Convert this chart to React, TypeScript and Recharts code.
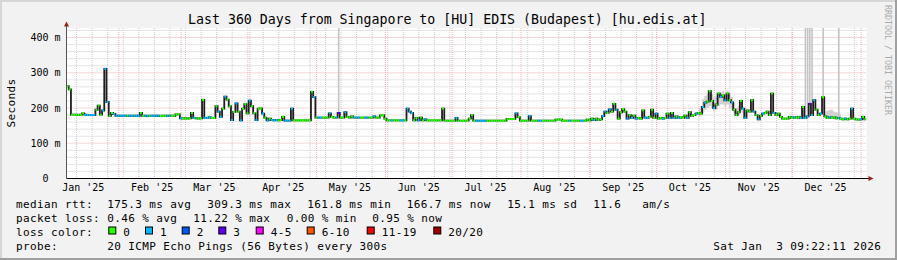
import React from 'react';
import { ComposedChart, Bar, Line, Area, XAxis, YAxis, CartesianGrid, ReferenceLine, Cell } from 'recharts';

// ---- data (one value per day, day 0 = 8 Jan 2025) ----
const medianMs = [
  262, 253, 181, 181, 181, 180, 181, 185, 181, 180,
  180, 180, 180, 195, 207, 181, 193, 311, 217, 178,
  186, 183, 178, 178, 178, 178, 178, 178, 178, 178,
  178, 178, 178, 186, 178, 178, 177, 178, 178, 178,
  178, 178, 177, 178, 178, 178, 178, 178, 178, 182,
  182, 171, 170, 171, 170, 171, 186, 172, 171, 170,
  171, 223, 172, 172, 174, 172, 172, 205, 190, 175,
  198, 232, 224, 205, 166, 189, 213, 190, 165, 198,
  211, 185, 221, 205, 185, 166, 198, 199, 184, 173,
  165, 170, 166, 165, 166, 165, 166, 175, 164, 164,
  164, 198, 165, 165, 165, 165, 165, 165, 165, 165,
  246, 231, 173, 173, 173, 173, 173, 173, 185, 175,
  173, 173, 186, 173, 173, 188, 175, 173, 176, 173,
  173, 173, 173, 173, 173, 173, 173, 173, 176, 173,
  173, 179, 179, 170, 165, 165, 165, 165, 165, 165,
  165, 165, 165, 198, 190, 186, 165, 172, 165, 173,
  165, 168, 165, 165, 165, 165, 165, 165, 165, 198,
  164, 164, 164, 164, 164, 172, 164, 164, 164, 164,
  164, 170, 180, 164, 164, 164, 164, 164, 164, 164,
  164, 164, 164, 164, 164, 164, 164, 164, 169, 169,
  169, 169, 185, 174, 164, 164, 164, 164, 177, 164,
  164, 164, 164, 164, 164, 164, 164, 164, 164, 164,
  167, 167, 167, 164, 164, 164, 164, 164, 164, 164,
  164, 164, 164, 164, 167, 165, 170, 166, 170, 166,
  168, 177, 190, 186, 196, 190, 212, 195, 170, 188,
  197, 190, 170, 180, 172, 178, 170, 172, 170, 193,
  173, 172, 175, 195, 172, 184, 170, 172, 170, 172,
  184, 172, 186, 172, 176, 172, 174, 172, 178, 172,
  188, 178, 180, 184, 186, 184, 203, 215, 218, 248,
  220, 200, 210, 241, 232, 236, 222, 241, 222, 216,
  195, 180, 188, 220, 198, 172, 193, 190, 222, 190,
  180, 168, 178, 184, 186, 190, 180, 241, 186, 180,
  184, 175, 170, 170, 170, 175, 172, 174, 172, 175,
  172, 203, 172, 176, 212, 180, 222, 195, 180, 184,
  231, 176, 172, 174, 172, 174, 171, 172, 170, 168,
  170, 168, 170, 198, 170, 168, 167, 168, 175, 168,
];

// [first day, last day, lost pings]
const lossRuns = [
  [8, 12, 1], [16, 18, 1], [21, 26, 1], [28, 32, 1], [35, 36, 1], [38, 41, 1], [45, 46, 1], [51, 51, 1],
  [57, 57, 1], [62, 64, 1], [68, 69, 1], [71, 71, 1], [74, 74, 1], [76, 76, 1], [78, 78, 1], [82, 82, 1],
  [85, 85, 1], [88, 88, 1], [90, 90, 1], [92, 94, 1], [98, 101, 1], [111, 111, 1],
  [113, 114, 1], [118, 118, 1], [121, 121, 1], [122, 122, 3], [125, 125, 1], [129, 131, 1], [134, 135, 1], [138, 138, 1],
  [146, 146, 1], [150, 151, 1], [153, 155, 1], [158, 158, 1], [161, 161, 1],
  [175, 175, 1], [184, 188, 1], [202, 202, 1], [208, 208, 1], [212, 213, 1], [226, 226, 1], [231, 232, 1], [237, 237, 1],
  [241, 242, 1], [244, 244, 1], [247, 247, 1], [252, 252, 1], [254, 254, 1], [256, 256, 1], [260, 261, 1], [265, 265, 1],
  [268, 268, 1], [271, 271, 1], [273, 273, 1], [275, 275, 1], [279, 279, 1], [283, 283, 1], [286, 287, 1], [291, 291, 1],
  [294, 294, 1], [296, 296, 1], [299, 299, 1], [304, 305, 1], [309, 309, 1], [311, 311, 1], [313, 313, 1], [318, 318, 1],
  [327, 327, 1], [330, 330, 1], [332, 333, 1], [334, 334, 3], [335, 336, 1], [339, 339, 1], [343, 343, 1], [347, 347, 1],
  [350, 350, 1], [353, 353, 1], [357, 357, 1],
];

// [day, low ms, high ms] of the ping spread (smoke)
const smokeSpread = [
  [284, 176, 200], [285, 178, 205], [286, 185, 225], [287, 195, 235], [288, 200, 240], [289, 205, 252],
  [290, 200, 240], [291, 190, 230], [292, 195, 235], [293, 205, 245], [294, 210, 245], [295, 210, 248],
  [296, 205, 240], [297, 210, 250], [298, 200, 240], [299, 195, 232], [300, 185, 215], [301, 178, 200],
  [302, 180, 205], [303, 190, 225], [304, 185, 210],
  [341, 172, 190], [342, 172, 192], [343, 175, 195], [344, 175, 195], [345, 172, 190], [346, 170, 188],
  [347, 170, 186], [348, 168, 182],
];

// days whose ping spread runs off the top of the graph
const offScaleDays = [122, 332, 333, 334, 335, 340, 347];

const monthStartDays = [23.55, 51.55, 82.55, 112.55, 143.55, 173.55, 204.55, 235.55, 265.55, 296.55, 326.55, 357.55];
const monthLabelDays = [7.55, 38.55, 66.55, 97.55, 127.55, 158.55, 188.55, 219.55, 250.55, 280.55, 311.55, 341.55];
const monthLabels = ["Jan '25", "Feb '25", "Mar '25", "Apr '25", "May '25", "Jun '25", "Jul '25", "Aug '25", "Sep '25", "Oct '25", "Nov '25", "Dec '25"];
const firstMondayDay = 4.55;
const yTicks = [0, 100, 200, 300, 400];
const yMax = 427;

const lossColorByCount = { 0: '#26ff00', 1: '#00b8ff', 2: '#0059ff', 3: '#5e00ff' };
const legendLossLabels = ['0', '1', '2', '3', '4-5', '6-10', '11-19', '20/20'];
const legendLossColors = ['#26ff00', '#00b8ff', '#0059ff', '#5e00ff', '#ff00ff', '#ff5500', '#ff0000', '#a00000'];

const titleText = 'Last 360 Days from Singapore to [HU] EDIS (Budapest) [hu.edis.at]';
const rttStats = ['175.3 ms avg', '309.3 ms max', '161.8 ms min', '166.7 ms now', '15.1 ms sd', '11.6', 'am/s'];
const lossStats = ['0.46 % avg', '11.22 % max', '0.00 % min', '0.95 % now'];
const probeText = '20 ICMP Echo Pings (56 Bytes) every 300s';
const dateText = 'Sat Jan  3 09:22:11 2026';

// ---- layout ----
const rttX = [107.3, 207.3, 307.3, 406.7, 507.3, 593.3, 642.3];
const lossX = [107.3, 193.3, 286.7, 372.3];
const boxX = [108.3, 145, 181.7, 218.3, 255.7, 306.7, 366.7, 433.3];
const MONO = "'DejaVu Sans Mono', monospace";

const lossByDay = medianMs.map((_, i) => {
  const r = lossRuns.find(([s, e]) => i >= s && i <= e);
  return r ? r[2] : 0;
});
const smokeByDay = {};
smokeSpread.forEach(([d, lo, hi]) => { smokeByDay[d] = [lo, hi]; });

const weekDays = [];
for (let d = firstMondayDay; d < 360; d += 7) weekDays.push(d);
const minorY = [];
for (let v = 20; v < yMax; v += 20) if (v % 100 !== 0) minorY.push(v);

const XTick = (props) => {
  const { x, y, payload } = props;
  const idx = monthLabelDays.indexOf(payload.value);
  return (
    <text x={x} y={y + 12.2} textAnchor="middle" fontFamily={MONO} fontSize={10} fill="#000">
      {idx >= 0 ? monthLabels[idx] : ''}
    </text>
  );
};

const YTick = (props) => {
  const { x, y, payload } = props;
  const v = payload.value;
  return (
    <text x={v === 0 ? x - 12.04 : x} y={y} dy="0.355em" textAnchor="end" fontFamily={MONO} fontSize={10} fill="#000">
      {v === 0 ? '0' : `${v} m`}
    </text>
  );
};

export default function App() {
  const data = medianMs.map((m, i) => ({
    i,
    m,
    band: [m - 3, m + 3],
    smoke: smokeByDay[i] ?? null,
    loss: lossByDay[i],
  }));
  const legendFont = { fontFamily: MONO, fontSize: 11, letterSpacing: 0.38 };
  return (
    <div style={{ position: 'absolute', left: 0, top: 0, width: 897, height: 260, background: '#f2f2f2', overflow: 'hidden' }}>
      <ComposedChart
        width={897}
        height={260}
        data={data}
        margin={{ top: 28, right: 30.5, bottom: 61.5, left: 0.5 }}
        barCategoryGap={0}
        barGap={0}
      >
        <CartesianGrid xAxisId="t" stroke="#cccccc" strokeDasharray="1 1" horizontalValues={minorY} verticalValues={weekDays} fill="#ffffff" fillOpacity={1} />
        <CartesianGrid xAxisId="t" stroke="#f0b2b2" strokeDasharray="1 1" horizontalValues={[100, 200, 300, 400]} verticalValues={monthStartDays} />
        <XAxis
          xAxisId="t"
          dataKey="i"
          type="number"
          domain={[0, 360]}
          ticks={monthLabelDays}
          interval={0}
          tickSize={0}
          tickMargin={0}
          height={20}
          axisLine={{ stroke: '#000' }}
          tickLine={false}
          tick={XTick}
          allowDataOverflow
        />
        <XAxis xAxisId="cat" dataKey="i" type="category" scale="band" height={0} hide />
        <YAxis
          domain={[0, yMax]}
          ticks={yTicks}
          interval={0}
          width={66}
          tickSize={0}
          tickMargin={6}
          tickLine={false}
          axisLine={{ stroke: '#555' }}
          tick={YTick}
          allowDataOverflow
        />
        {offScaleDays.map((d) => (
          <ReferenceLine
            key={`o${d}`}
            xAxisId="cat"
            segment={[{ x: d, y: medianMs[d] + 3 }, { x: d, y: yMax }]}
            stroke="#c4c4c4"
            strokeWidth={1.6}
            zIndex={120}
          />
        ))}
        <Area
          xAxisId="cat"
          type="step"
          dataKey="smoke"
          fill="#d2d2d2"
          fillOpacity={1}
          stroke="none"
          connectNulls={false}
          dot={false}
          activeDot={false}
          isAnimationActive={false}
        />
        <Line
          xAxisId="cat"
          type="step"
          dataKey="m"
          stroke="#1e1e1e"
          strokeWidth={1.8}
          dot={false}
          activeDot={false}
          isAnimationActive={false}
        />
        <Bar xAxisId="cat" dataKey="band" barSize={2.4} isAnimationActive={false} zIndex={450}>
          {data.map((d) => (
            <Cell key={`c${d.i}`} fill={lossColorByCount[d.loss]} />
          ))}
        </Bar>
      </ComposedChart>
      <svg width={897} height={260} style={{ position: 'absolute', left: 0, top: 0, pointerEvents: 'none' }}>
        <rect x={0} y={0} width={897} height={2} fill="#d6d6d6" />
        <rect x={0} y={0} width={2} height={260} fill="#d6d6d6" />
        <rect x={0} y={258} width={897} height={2} fill="#a0a0a0" />
        <rect x={895} y={0} width={2} height={260} fill="#a0a0a0" />
        <line x1={66.5} y1={26} x2={66.5} y2={28.5} stroke="#555" strokeWidth={1} />
        <polygon points="66.5,21.5 64,26.5 69,26.5" fill="#9a2020" />
        <line x1={866} y1={178.5} x2={869} y2={178.5} stroke="#000" strokeWidth={1} />
        <polygon points="873.5,178.5 868.5,176 868.5,181" fill="#9a2020" />
        <text x={447.3} y={24} textAnchor="middle" fontFamily={MONO} fontSize={13.25} fill="#000">{titleText}</text>
        <text x={14.5} y={103} transform="rotate(-90 14.5 103)" textAnchor="middle" style={legendFont} fill="#000">Seconds</text>
        <text x={884.5} y={5} transform="rotate(90 884.5 5)" textAnchor="start" fontFamily={MONO} fontSize={8.3} fill="#aaaaaa">RRDTOOL / TOBI OETIKER</text>
        <g style={legendFont} fill="#000">
          <text x={16} y={207.7}>median rtt:</text>
          {rttStats.map((s, k) => <text key={`r${k}`} x={rttX[k]} y={207.7} style={{ whiteSpace: 'pre' }}>{s}</text>)}
          <text x={16} y={221.7}>packet loss:</text>
          {lossStats.map((s, k) => <text key={`l${k}`} x={lossX[k]} y={221.7}>{s}</text>)}
          <text x={16} y={235.7}>loss color:</text>
          {legendLossLabels.map((s, k) => (
            <g key={`b${k}`}>
              <rect x={boxX[k] + 0.5} y={227} width={7} height={7} fill={legendLossColors[k]} stroke="#000" strokeWidth={1} />
              <text x={boxX[k] + 15} y={235.7}>{s}</text>
            </g>
          ))}
          <text x={16} y={249.7}>probe:</text>
          <text x={107.3} y={249.7}>{probeText}</text>
          <text x={713.3} y={249.7} style={{ whiteSpace: 'pre' }}>{dateText}</text>
        </g>
      </svg>
    </div>
  );
}
